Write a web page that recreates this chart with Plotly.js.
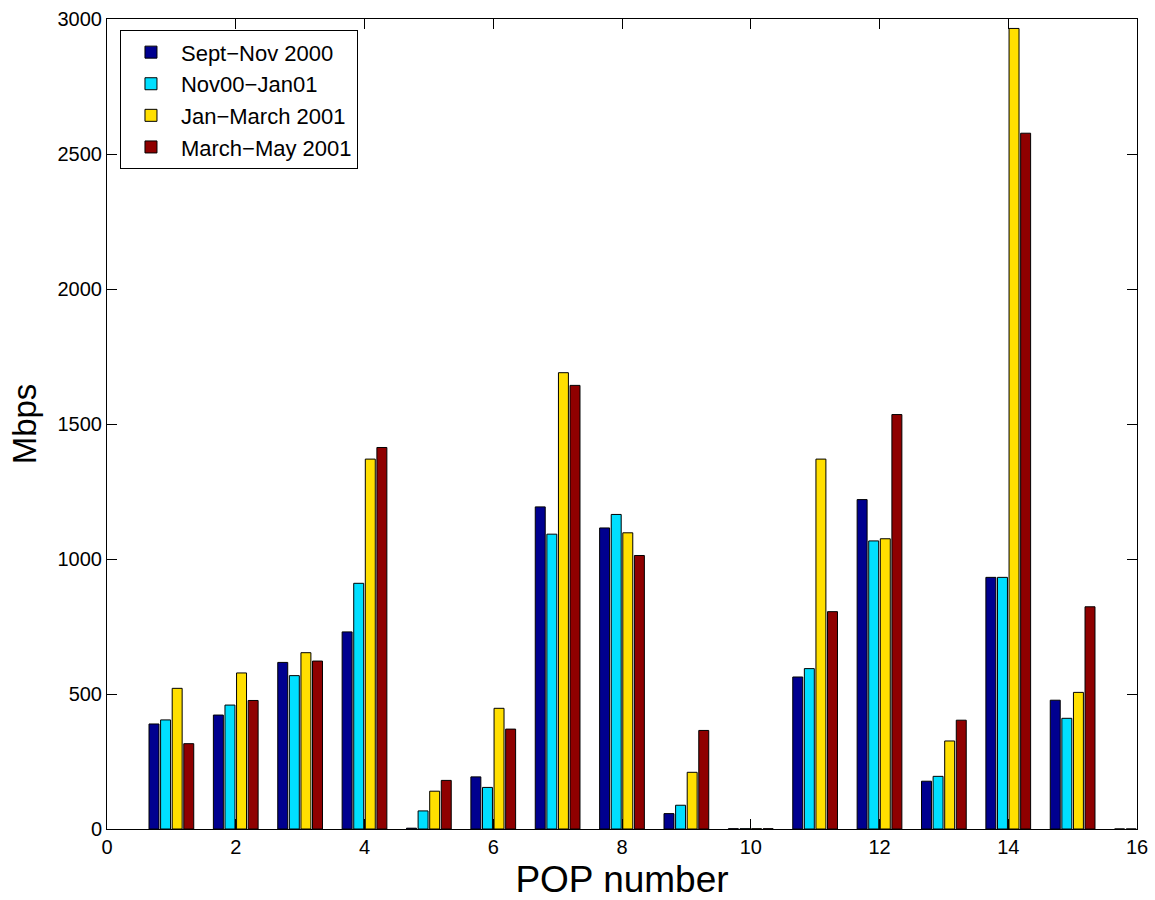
<!DOCTYPE html>
<html>
<head>
<meta charset="utf-8">
<script src="https://cdn.plot.ly/plotly-3.0.1.min.js"></script>
<style>html,body{margin:0;padding:0;background:#fff;}#chart{width:1155px;height:900px;}</style>
</head>
<body>
<div id="chart"></div>
<script>
const pops = [1,2,3,4,5,6,7,8,9,10,11,12,13,14,15,16];
const seriesNames = ["Sept\u2212Nov 2000","Nov00\u2212Jan01","Jan\u2212March 2001","March\u2212May 2001"];
const septNov2000 = [389,422,617,730,3,193,1193,1115,57,1,563,1220,177,932,477,0];
const nov00Jan01  = [404,459,568,910,67,154,1092,1165,88,1,594,1067,195,932,410,0];
const janMar2001  = [521,578,653,1370,140,447,1690,1097,210,1,1370,1075,326,2965,506,0];
const marMay2001  = [316,476,622,1413,180,370,1643,1013,365,1,805,1535,403,2577,823,0];
const colors = ["#00008F","#00DFFF","#FFDF00","#8F0000"];
const allSeries = [septNov2000, nov00Jan01, janMar2001, marMay2001];

const traces = allSeries.map((vals, i) => ({
  type: "bar",
  x: pops,
  y: vals,
  name: seriesNames[i],
  marker: {color: colors[i], line: {color: "#000", width: 1}},
  hoverinfo: "x+y+name"
}));

const font = "Liberation Sans, Arial, Helvetica, sans-serif";
const layout = {
  width: 1155, height: 900,
  margin: {l: 107, r: 18, t: 19, b: 71, pad: 0},
  paper_bgcolor: "#fff", plot_bgcolor: "#fff",
  barmode: "group",
  bargap: 0.28,
  bargroupgap: 0.14,
  font: {family: font, color: "#000", size: 20},
  xaxis: {
    range: [0, 16], tickvals: [0,2,4,6,8,10,12,14,16],
    ticks: "inside", ticklen: 10, tickwidth: 1, tickcolor: "#000",
    showline: true, linecolor: "#000", linewidth: 1, mirror: "ticks",
    showgrid: false, zeroline: false,
    tickfont: {size: 20, family: font},
    title: {text: "POP number", font: {size: 37, family: font}, standoff: 10}
  },
  yaxis: {
    range: [0, 3000], tickvals: [0,500,1000,1500,2000,2500,3000],
    ticks: "inside", ticklen: 10, tickwidth: 1, tickcolor: "#000",
    showline: true, linecolor: "#000", linewidth: 1, mirror: "ticks",
    showgrid: false, zeroline: false,
    tickfont: {size: 20, family: font},
    title: {text: "Mbps", font: {size: 33, family: font}, standoff: 10}
  },
  legend: {
    x: 0.0126, y: 0.986, xanchor: "left", yanchor: "top",
    bgcolor: "#fff", bordercolor: "#000", borderwidth: 1,
    font: {size: 22, family: font}, traceorder: "normal",
    itemwidth: 50, tracegroupgap: 0
  },
  showlegend: true
};

Plotly.newPlot("chart", traces, layout, {displayModeBar: false, staticPlot: true});
</script>
</body>
</html>
